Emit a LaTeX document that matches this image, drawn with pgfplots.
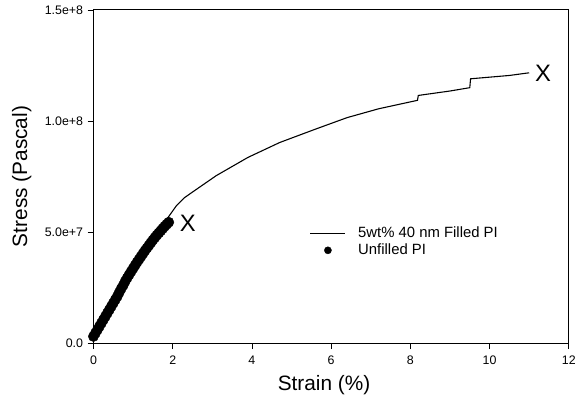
\documentclass[border=0pt]{standalone}
\usepackage{pgfplots}
\pgfplotsset{compat=1.18}
\usepackage{fontspec}
\setmainfont{Liberation Sans}

\begin{document}
\begin{tikzpicture}
\begin{axis}[
  scale only axis,
  width=478bp, height=335bp,
  xmin=0, xmax=12, ymin=0, ymax=150,
  xtick={0,2,...,12},
  ytick={0,50,100,150},
  yticklabels={0.0,5.0e+7,1.0e+8,1.5e+8},
  /pgf/number format/assume math mode=true,
  tick align=outside, xtick pos=bottom, ytick pos=left,
  major tick length=6bp,
  tick style={black, line width=0.8bp},
  axis line style={line width=0.9bp},
  tick label style={font=\fontsize{12.5}{14}\selectfont},
  xticklabel style={yshift=-3bp},
  yticklabel style={xshift=-1bp},
  xlabel={Strain (\%)}, ylabel={Stress (Pascal)},
  label style={font=\fontsize{21}{24}\selectfont},
  xlabel style={at={(axis description cs:0.485,-0.125)}, anchor=center},
  ylabel style={at={(axis description cs:-0.151,0.5)}, anchor=center},
  legend style={draw=none, fill=none, at={(0.452,0.358)}, anchor=north west,
    font=\fontsize{15}{17}\selectfont, row sep=1bp, inner sep=1bp,
    /tikz/every odd column/.style={column sep=11bp}},
  legend cell align=left,
  clip=false,
]
\addplot[black, line width=1.1bp, no marks,
  legend image code/.code={\draw[black, line width=1bp] (0bp,0bp) -- (35bp,0bp);}] coordinates {
 (0,3) (0.2,9.5) (0.5,19) (0.8,28.5) (1.0,34) (1.4,45) (1.9,57)
 (2.1,62) (2.3,65.5) (2.5,68) (3.1,75.4) (3.9,83.6) (4.7,90.3)
 (5.6,96.3) (6.4,101.5) (7.2,105.5) (8.18,109.3) (8.2,111.5)
 (9.0,113.5) (9.5,115) (9.52,119) (10.5,120.5) (11.0,121.7)
};
\addlegendentry{5wt\% 40 nm Filled PI}
\addplot[only marks, mark=*, mark size=5.2bp, black,
  legend image code/.code={\path[draw=none] (0bp,0bp) -- (35bp,0bp); \fill[black] (18bp,0bp) circle (3.6bp);}] coordinates {
 (0,3) (0.05,4.5) (0.1,6) (0.15,7.5) (0.2,9) (0.25,10.5) (0.3,12)
 (0.35,13.5) (0.4,15) (0.45,16.5) (0.5,18) (0.55,19.5) (0.6,21)
 (0.65,22.8) (0.7,24.5) (0.75,26) (0.8,27.8) (0.85,29.3) (0.9,30.8)
 (0.95,32.2) (1.0,33.6) (1.05,35) (1.1,36.4) (1.15,37.7) (1.2,39)
 (1.25,40.3) (1.3,41.6) (1.35,42.8) (1.4,44) (1.45,45.2) (1.5,46.4)
 (1.55,47.5) (1.6,48.6) (1.65,49.6) (1.7,50.6) (1.75,51.6) (1.8,52.6)
 (1.85,53.5) (1.9,54.4)
};
\addlegendentry{Unfilled PI}
\node[font=\fontsize{24}{26}\selectfont, anchor=center] at (axis cs:11.35,121.5) {X};
\node[font=\fontsize{24}{26}\selectfont, anchor=center] at (axis cs:2.38,53.8) {X};
\end{axis}
\path ([xshift=-94bp,yshift=-57bp]current axis.south west) rectangle ([xshift=7bp,yshift=10bp]current axis.north east);
\end{tikzpicture}
\end{document}
